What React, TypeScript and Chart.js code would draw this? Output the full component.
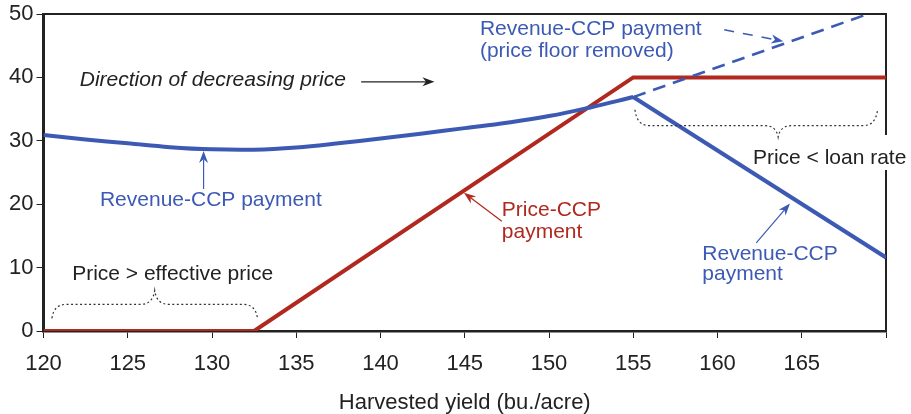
import React, { useEffect, useRef } from "react";
import { Chart, registerables } from "chart.js";
Chart.register(...registerables);

// ---- data ----
const xTickValues = [120, 125, 130, 135, 140, 145, 150, 155, 160, 165, 170];
const yTickValues = [0, 10, 20, 30, 40, 50];

const priceCcpYield = [120, 132.5, 155, 170];
const priceCcpPayment = [0, 0, 40, 40];

const revenueCurveYield = [120, 122.5, 125, 127.5, 130, 132.5, 135, 137.5, 140, 142.5, 145, 147.5, 150, 152.5, 155];
const revenueCurvePayment = [30.9, 30.2, 29.6, 29.0, 28.65, 28.6, 28.95, 29.6, 30.35, 31.15, 32.0, 32.85, 33.9, 35.3, 36.9];

const revenueTailYield = [155, 170];
const revenueTailPayment = [36.9, 11.6];

const floorRemovedYield = [155, 170];
const floorRemovedPayment = [36.9, 51.0];

const BLUE = "#3C5AB4";
const RED = "#B0281E";
const INK = "#222222";
const FONT = "'Liberation Sans', Arial, sans-serif";

// ---- annotation texts (data units) ----
const textLabels = [
  { text: "Direction of decreasing price", x: 122.15, y: 39.5, color: INK, italic: true },
  { text: "Revenue-CCP payment", x: 123.35, y: 20.7, color: BLUE, italic: false },
  { text: "Revenue-CCP payment", x: 145.9, y: 47.6, color: BLUE, italic: false },
  { text: "(price floor removed)", x: 145.9, y: 44.2, color: BLUE, italic: false },
  { text: "Price < loan rate", x: 162.1, y: 27.2, color: INK, italic: false },
  { text: "Price-CCP", x: 147.2, y: 19.0, color: RED, italic: false },
  { text: "payment", x: 147.2, y: 15.6, color: RED, italic: false },
  { text: "Revenue-CCP", x: 159.1, y: 12.1, color: BLUE, italic: false },
  { text: "payment", x: 159.1, y: 8.9, color: BLUE, italic: false },
  { text: "Price > effective price", x: 121.7, y: 9.0, color: INK, italic: false },
];

const arrows = [
  { x1: 138.85, y1: 39.3, x2: 143.2, y2: 39.3, color: INK, dashed: false, width: 1.2 },
  { x1: 129.5, y1: 22.4, x2: 129.5, y2: 28.4, color: BLUE, dashed: false, width: 1.2 },
  { x1: 147.2, y1: 17.3, x2: 144.95, y2: 21.8, color: RED, dashed: false, width: 1.2 },
  { x1: 162.3, y1: 13.9, x2: 164.3, y2: 20.1, color: BLUE, dashed: false, width: 1.2 },
  { x1: 160.4, y1: 47.5, x2: 163.9, y2: 45.7, color: BLUE, dashed: true, width: 1.5 },
];

// braces: ends, flat level, tip
const braces = [
  { x0: 120.5, x1: 132.7, yEnd: 2.0, yFlat: 4.2, xTip: 126.6, yTip: 6.4 },
  { x0: 155.1, x1: 169.5, yEnd: 34.9, yFlat: 32.4, xTip: 163.6, yTip: 30.6 },
];

// gap in right frame line (value range) where "Price < loan rate" passes
const rightFrameGap = [25.4, 30.9];

const annotationPlugin = {
  id: "annotationPlugin",
  beforeDatasetsDraw(chart: any) {
    const { ctx, chartArea: a, scales } = chart;
    const Y = (v: number) => scales.y.getPixelForValue(v);
    ctx.save();
    ctx.strokeStyle = INK;
    ctx.lineWidth = 2;
    ctx.beginPath();
    ctx.moveTo(a.left, a.top);
    ctx.lineTo(a.right, a.top);
    ctx.lineTo(a.right, Y(rightFrameGap[1]));
    ctx.moveTo(a.right, Y(rightFrameGap[0]));
    ctx.lineTo(a.right, a.bottom);
    ctx.stroke();
    ctx.restore();
  },
  afterDraw(chart: any) {
    const { ctx, scales } = chart;
    const X = (v: number) => scales.x.getPixelForValue(v);
    const Y = (v: number) => scales.y.getPixelForValue(v);
    ctx.save();

    // braces
    ctx.setLineDash([2, 2.5]);
    ctx.lineWidth = 1.2;
    ctx.strokeStyle = "#333";
    braces.forEach((b) => {
      const x0 = X(b.x0), x1 = X(b.x1), xt = X(b.xTip);
      const ye = Y(b.yEnd), yf = Y(b.yFlat), yt = Y(b.yTip);
      const d = 14;
      ctx.beginPath();
      ctx.moveTo(x0, ye);
      ctx.quadraticCurveTo(x0 + 2, yf, x0 + d, yf);
      ctx.lineTo(xt - d, yf);
      ctx.quadraticCurveTo(xt - 2, yf, xt, yt);
      ctx.quadraticCurveTo(xt + 2, yf, xt + d, yf);
      ctx.lineTo(x1 - d, yf);
      ctx.quadraticCurveTo(x1 - 2, yf, x1, ye);
      ctx.stroke();
    });
    ctx.setLineDash([]);

    // arrows
    arrows.forEach((ar) => {
      const x1 = X(ar.x1), y1 = Y(ar.y1), x2 = X(ar.x2), y2 = Y(ar.y2);
      const ang = Math.atan2(y2 - y1, x2 - x1);
      const hl = 12, hw = 4.5;
      ctx.strokeStyle = ar.color;
      ctx.fillStyle = ar.color;
      ctx.lineWidth = ar.width;
      if (ar.dashed) ctx.setLineDash([10, 9]);
      ctx.beginPath();
      ctx.moveTo(x1, y1);
      ctx.lineTo(x2 - Math.cos(ang) * hl * 0.7, y2 - Math.sin(ang) * hl * 0.7);
      ctx.stroke();
      ctx.setLineDash([]);
      ctx.beginPath();
      ctx.moveTo(x2, y2);
      ctx.lineTo(x2 - Math.cos(ang) * hl - Math.sin(ang) * hw, y2 - Math.sin(ang) * hl + Math.cos(ang) * hw);
      ctx.lineTo(x2 - Math.cos(ang) * hl * 0.7, y2 - Math.sin(ang) * hl * 0.7);
      ctx.lineTo(x2 - Math.cos(ang) * hl + Math.sin(ang) * hw, y2 - Math.sin(ang) * hl - Math.cos(ang) * hw);
      ctx.closePath();
      ctx.fill();
    });

    // texts
    ctx.textBaseline = "middle";
    ctx.textAlign = "left";
    textLabels.forEach((t) => {
      ctx.font = `${t.italic ? "italic " : ""}21px ${FONT}`;
      ctx.fillStyle = t.color;
      ctx.fillText(t.text, X(t.x), Y(t.y));
    });
    ctx.restore();
  },
};

export default function App() {
  const ref = useRef<HTMLCanvasElement | null>(null);
  useEffect(() => {
    document.body.style.margin = "0";
    const toPts = (xs: number[], ys: number[]) => xs.map((x, i) => ({ x, y: ys[i] }));
    const chart = new Chart(ref.current as HTMLCanvasElement, {
      type: "line",
      data: {
        datasets: [
          {
            label: "Revenue-CCP payment (price floor removed)",
            data: toPts(floorRemovedYield, floorRemovedPayment),
            borderColor: BLUE,
            borderWidth: 2.5,
            borderDash: [13, 8],
            pointRadius: 0,
            tension: 0,
          },
          {
            label: "Revenue-CCP payment",
            data: toPts(revenueCurveYield, revenueCurvePayment),
            borderColor: BLUE,
            borderWidth: 4,
            pointRadius: 0,
            tension: 0.4,
          },
          {
            label: "Revenue-CCP payment tail",
            data: toPts(revenueTailYield, revenueTailPayment),
            borderColor: BLUE,
            borderWidth: 4,
            pointRadius: 0,
            tension: 0,
          },
          {
            label: "Price-CCP payment",
            data: toPts(priceCcpYield, priceCcpPayment),
            borderColor: RED,
            borderWidth: 4,
            pointRadius: 0,
            tension: 0,
          },
        ],
      },
      options: {
        responsive: false,
        animation: false,
        events: [],
        layout: { padding: { top: 11, right: 25, left: 0, bottom: 0 } },
        plugins: { legend: { display: false }, tooltip: { enabled: false } },
        scales: {
          x: {
            type: "linear",
            min: 120,
            max: 170,
            afterBuildTicks: (s: any) => {
              s.ticks = xTickValues.map((v) => ({ value: v }));
            },
            afterFit: (s: any) => {
              s.height = 83;
            },
            ticks: {
              callback: (v: any) => (v === 170 ? "" : String(v)),
              font: { family: FONT, size: 22, lineHeight: 1 },
              color: INK,
              padding: 15,
              maxRotation: 0,
              autoSkip: false,
            },
            grid: { drawOnChartArea: false, drawTicks: true, tickLength: 7, color: INK, tickWidth: 1 },
            border: { color: INK, width: 2.5 },
            title: {
              display: true,
              text: "Harvested yield (bu./acre)",
              font: { family: FONT, size: 22, lineHeight: 1 },
              color: INK,
              padding: { top: 10, bottom: 0 },
            },
          },
          y: {
            type: "linear",
            min: 0,
            max: 50,
            afterBuildTicks: (s: any) => {
              s.ticks = yTickValues.map((v) => ({ value: v }));
            },
            afterFit: (s: any) => {
              s.width = 43.5;
            },
            ticks: {
              font: { family: FONT, size: 22, lineHeight: 1 },
              color: INK,
              padding: 3,
            },
            grid: { drawOnChartArea: false, drawTicks: true, tickLength: 7, color: INK, tickWidth: 1 },
            border: { color: INK, width: 3 },
          },
        },
      },
      plugins: [annotationPlugin],
    } as any);
    return () => chart.destroy();
  }, []);
  return (
    <div style={{ width: 911, height: 414, position: "relative", background: "#fff" }}>
      <canvas ref={ref} width={911} height={414} style={{ width: 911, height: 414, display: "block" }} />
    </div>
  );
}
